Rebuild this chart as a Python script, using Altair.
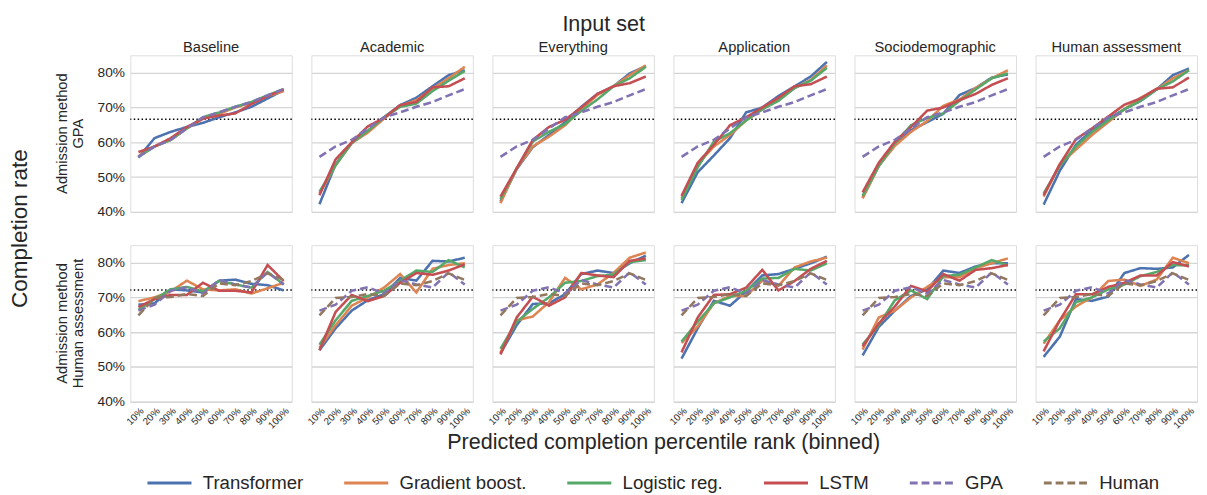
import altair as alt
import pandas as pd

BINS = ["10%", "20%", "30%", "40%", "50%", "60%", "70%", "80%", "90%", "100%"]
INPUT_SETS = ["Baseline", "Academic", "Everything", "Application", "Sociodemographic", "Human assessment"]
METHODS = ["GPA", "Human assessment"]
SERIES = ["Transformer", "Gradient boost.", "Logistic reg.", "LSTM", "GPA", "Human"]
COLORS = ["#4C72B0", "#DD8452", "#55A868", "#C44E52", "#8172B3", "#937860"]
THRESHOLDS = {"GPA": 0.666, "Human assessment": 0.721}

# Admission method: GPA (one list per input set, in INPUT_SETS order)
transformer_gpa = [
    [55.6, 61.2, 63.0, 64.4, 65.6, 67.2, 68.6, 70.2, 72.6, 75.0],
    [42.2, 53.7, 59.8, 63.3, 67.2, 70.7, 72.8, 76.1, 79.3, 80.7],
    [43.0, 52.3, 58.6, 62.1, 65.8, 70.2, 73.9, 76.1, 79.8, 81.9],
    [42.5, 51.4, 56.2, 61.2, 68.6, 70.0, 73.3, 76.1, 78.9, 83.1],
    [44.1, 53.2, 59.3, 63.5, 65.8, 68.2, 73.6, 75.6, 78.6, 79.5],
    [42.1, 51.8, 59.3, 63.5, 66.8, 69.5, 71.9, 75.2, 79.3, 81.2],
]
gradboost_gpa = [
    [56.0, 58.8, 60.7, 64.0, 66.8, 68.2, 70.0, 71.4, 73.3, 74.7],
    [45.3, 53.4, 59.8, 62.8, 66.8, 70.5, 72.1, 75.4, 78.4, 81.7],
    [42.5, 52.5, 58.8, 61.6, 64.9, 69.5, 73.6, 76.1, 79.3, 82.1],
    [43.9, 53.7, 58.8, 62.1, 66.3, 69.5, 72.3, 75.6, 77.9, 82.1],
    [43.9, 53.2, 59.0, 63.0, 66.1, 70.5, 72.3, 75.6, 78.4, 80.7],
    [44.4, 53.7, 57.9, 62.1, 65.8, 69.5, 72.8, 75.2, 78.4, 80.7],
]
logreg_gpa = [
    [55.8, 58.8, 60.7, 64.0, 67.2, 68.6, 70.2, 71.6, 73.5, 75.3],
    [45.8, 53.4, 59.8, 63.3, 67.2, 70.2, 71.1, 74.7, 77.7, 80.5],
    [43.7, 52.5, 60.2, 63.0, 65.3, 69.0, 72.3, 76.1, 78.4, 81.7],
    [43.4, 52.8, 60.2, 62.6, 66.3, 69.5, 71.9, 75.6, 77.7, 81.4],
    [44.6, 53.2, 59.8, 64.9, 67.0, 68.3, 71.9, 75.2, 78.4, 79.8],
    [45.3, 53.2, 58.8, 63.0, 66.3, 69.5, 71.9, 75.2, 77.5, 80.7],
]
lstm_gpa = [
    [57.2, 58.8, 61.2, 64.4, 66.8, 67.7, 68.3, 71.0, 73.3, 75.2],
    [44.8, 55.1, 60.0, 64.6, 67.0, 70.7, 71.6, 75.8, 76.1, 78.4],
    [44.4, 52.5, 60.7, 64.4, 66.5, 70.0, 73.9, 76.1, 77.0, 78.9],
    [44.6, 54.1, 59.3, 64.9, 67.2, 70.0, 72.8, 76.1, 76.7, 78.9],
    [45.6, 54.1, 60.2, 64.4, 69.1, 70.0, 72.1, 73.9, 76.5, 78.4],
    [44.8, 53.7, 60.9, 64.0, 67.4, 70.8, 72.6, 75.4, 75.8, 78.6],
]
gpa_rule_gpa = [55.8, 58.8, 60.7, 64.0, 67.2, 68.6, 70.2, 71.6, 73.5, 75.3]

# Admission method: Human assessment
transformer_hum = [
    [67.9, 68.3, 72.3, 72.0, 71.4, 74.8, 75.1, 73.9, 73.5, 72.0],
    [54.8, 61.1, 66.2, 69.2, 70.9, 75.6, 74.8, 80.5, 80.3, 81.4],
    [53.9, 62.0, 68.1, 68.3, 70.9, 76.7, 77.7, 77.0, 79.8, 82.0],
    [52.4, 61.1, 69.0, 67.6, 71.7, 76.3, 76.7, 78.2, 79.8, 81.7],
    [53.3, 61.5, 66.2, 70.4, 72.3, 77.7, 77.0, 78.9, 79.8, 79.8],
    [52.9, 58.7, 69.5, 69.0, 70.2, 77.0, 78.4, 78.2, 78.6, 82.2],
]
gradboost_hum = [
    [68.9, 70.0, 71.7, 74.8, 72.3, 72.0, 72.3, 71.1, 72.6, 74.2],
    [55.5, 62.0, 67.6, 70.0, 72.8, 76.7, 71.4, 78.2, 79.3, 79.8],
    [54.1, 63.4, 64.5, 68.6, 75.6, 72.3, 73.7, 77.0, 81.4, 82.9],
    [56.9, 61.6, 68.3, 70.4, 70.4, 74.8, 73.3, 78.6, 80.3, 81.4],
    [55.0, 64.2, 66.2, 70.0, 73.0, 75.8, 75.8, 78.4, 79.8, 81.2],
    [56.7, 63.4, 67.4, 70.0, 74.7, 75.1, 73.3, 75.1, 81.4, 79.8],
]
logreg_hum = [
    [66.4, 69.5, 72.3, 73.0, 71.7, 74.7, 73.7, 72.8, 77.3, 73.7],
    [56.4, 63.4, 69.0, 70.4, 71.9, 74.8, 77.7, 77.3, 80.7, 78.6],
    [55.2, 63.0, 66.7, 70.0, 74.2, 74.7, 76.1, 76.5, 80.1, 80.7],
    [57.3, 63.0, 68.3, 70.0, 71.9, 75.4, 75.6, 78.2, 77.7, 79.8],
    [56.4, 62.0, 69.2, 72.0, 69.5, 76.1, 76.5, 78.6, 80.7, 79.2],
    [57.3, 61.1, 68.6, 70.0, 72.3, 73.7, 76.1, 77.3, 79.3, 79.2],
]
lstm_hum = [
    [67.2, 69.5, 70.7, 70.7, 74.2, 71.9, 71.9, 71.4, 79.3, 74.7],
    [54.8, 65.8, 70.7, 68.9, 70.4, 74.2, 77.0, 76.5, 77.7, 79.5],
    [53.6, 64.2, 70.2, 67.6, 70.0, 77.0, 76.3, 75.8, 80.5, 81.2],
    [54.2, 64.2, 70.7, 70.9, 72.8, 77.9, 72.0, 74.7, 78.2, 80.5],
    [55.9, 62.5, 67.4, 73.3, 71.7, 76.7, 74.8, 77.9, 78.4, 79.3],
    [54.5, 63.4, 70.9, 70.9, 73.0, 74.2, 76.3, 76.3, 80.1, 78.9],
]
gpa_rule_hum = [66.2, 67.9, 71.9, 72.9, 71.1, 75.0, 73.7, 72.8, 77.2, 73.7]
human_rule_hum = [64.8, 69.8, 70.1, 71.0, 70.4, 74.0, 73.5, 74.7, 76.9, 75.0]

rows = []
def add(series, method, per_set):
    for s, vals in zip(INPUT_SETS, per_set):
        for b, v in zip(BINS, vals):
            rows.append({"series": series, "method": method, "input": s,
                         "bin": b, "rate": v / 100.0, "thr": THRESHOLDS[method]})

add("Transformer", "GPA", transformer_gpa)
add("Gradient boost.", "GPA", gradboost_gpa)
add("Logistic reg.", "GPA", logreg_gpa)
add("LSTM", "GPA", lstm_gpa)
add("GPA", "GPA", [gpa_rule_gpa] * 6)
add("Transformer", "Human assessment", transformer_hum)
add("Gradient boost.", "Human assessment", gradboost_hum)
add("Logistic reg.", "Human assessment", logreg_hum)
add("LSTM", "Human assessment", lstm_hum)
add("GPA", "Human assessment", [gpa_rule_hum] * 6)
add("Human", "Human assessment", [human_rule_hum] * 6)
df = pd.DataFrame(rows)

FONT = "Liberation Sans"
TXT = "#262626"

Y_SCALE = alt.Scale(domain=[0.40, 0.85], nice=False, zero=False)
Y_AXIS = alt.Axis(title=None, values=[0.4, 0.5, 0.6, 0.7, 0.8], format=".0%",
                  labelFontSize=14, labelColor=TXT, ticks=False, domain=False,
                  gridColor="#d5d5d5", gridWidth=1.3, labelPadding=4, labelOverlap=False)

lines = alt.Chart().mark_line(strokeWidth=2.6).encode(
    x=alt.X("bin:O", sort=BINS, scale=alt.Scale(type="point", padding=0.5),
            axis=alt.Axis(title=None, labelAngle=-45,
                          labelFontSize=10, labelColor=TXT, ticks=False, domain=False,
                          gridColor="#f2f2f2", gridWidth=1, labelPadding=3)),
    y=alt.Y("rate:Q", scale=Y_SCALE, axis=Y_AXIS),
    color=alt.Color("series:N", sort=SERIES,
                    scale=alt.Scale(domain=SERIES, range=COLORS),
                    legend=alt.Legend(title=None, orient="none", legendX=16, legendY=413,
                                      direction="horizontal",
                                      symbolType="stroke", symbolStrokeWidth=3,
                                      symbolSize=2025, labelFontSize=19, labelColor=TXT,
                                      columnPadding=35, symbolOffset=0, labelOffset=10,
                                      padding=0)),
    strokeDash=alt.StrokeDash("series:N", sort=SERIES,
                              scale=alt.Scale(domain=SERIES,
                                              range=[[1, 0], [1, 0], [1, 0], [1, 0], [8, 4], [8, 4]]),
                              legend=alt.Legend(title=None)),
    detail="series:N",
)

rule = alt.Chart().mark_rule(color="black", strokeDash=[1.5, 2.5], strokeWidth=1.6).encode(
    y=alt.Y("mean(thr):Q", scale=Y_SCALE, axis=Y_AXIS)
)

chart = alt.layer(rule, lines, data=df).properties(width=165, height=160).facet(
    column=alt.Column("input:N", sort=INPUT_SETS,
                      header=alt.Header(title="Predicted completion percentile rank (binned)",
                                        titleOrient="bottom", labelOrient="top",
                                        titleFontSize=22, titleFontWeight="normal",
                                        titleColor=TXT, labelFontSize=15, labelColor=TXT,
                                        labelPadding=-1, titlePadding=-9, labelFont=FONT, titleFont=FONT)),
    row=alt.Row("method:N", sort=METHODS,
                header=alt.Header(title="Completion rate", titleFontSize=23, titleFontWeight="normal",
                                  titleColor=TXT, labelFontSize=15, labelColor=TXT,
                                  labelExpr="['Admission method', datum.value]",
                                  labelAngle=-90, labelPadding=4, titlePadding=13,
                                  labelFont=FONT, titleFont=FONT, labelLineHeight=17)),
    spacing={"column": 16, "row": 32},
).properties(
    title=alt.TitleParams("Input set", fontSize=22, fontWeight="normal", color=TXT, font=FONT,
                          anchor="middle", offset=1, dy=-4)
).configure_view(stroke=None).configure(font=FONT, padding=0).configure_axis(
    labelFont=FONT, titleFont=FONT
).configure_legend(labelFont=FONT)

chart.save("out.html", embed_options={"renderer": "svg", "actions": False})
